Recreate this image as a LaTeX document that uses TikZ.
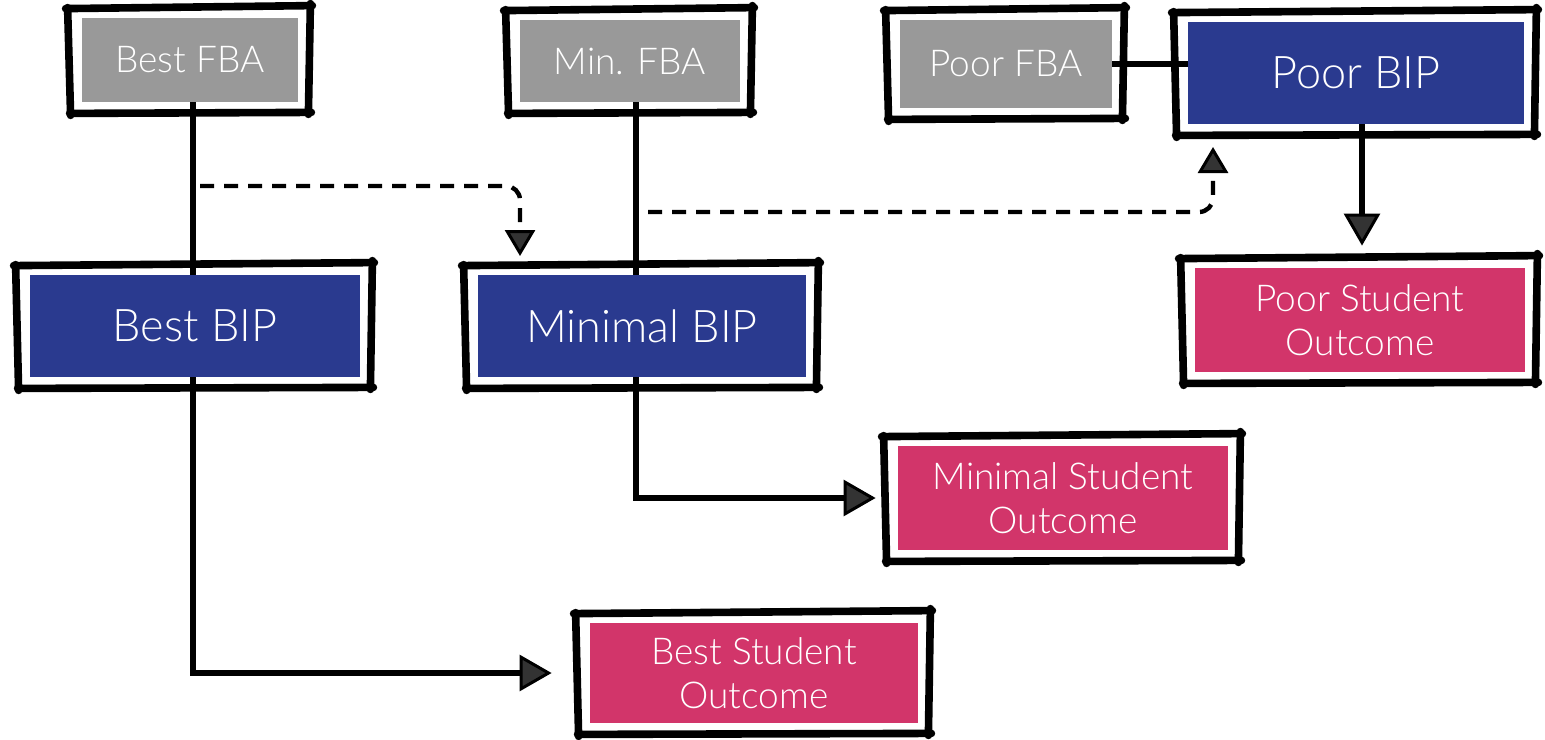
\documentclass[tikz,border=0pt]{standalone}
\usepackage{fontspec}
\setmainfont{Lato}[UprightFont=* Light]
\usetikzlibrary{arrows.meta,backgrounds,calc}
\definecolor{fbagrey}{RGB}{153,153,153}
\definecolor{bipblue}{RGB}{42,58,143}
\definecolor{outpink}{RGB}{210,53,106}
\tikzset{
  box/.style={inner sep=0pt, align=center, text=white, font=\fontsize{18.5}{22}\selectfont},
  fbabox/.style={box, fill=fbagrey, minimum width=108pt, minimum height=42pt, font=\fontsize{18.5}{22}\selectfont},
  bipbox/.style={box, fill=bipblue, minimum width=165pt, minimum height=51pt, font=\fontsize{22.5}{26}\selectfont},
  outbox/.style={box, fill=outpink, minimum width=165pt, minimum height=52pt},
  frame/.style={draw=black, line width=3.8pt, line cap=round, line join=round},
  conn/.style={draw=black, line width=2.6pt},
  tipconn/.style={conn, -{Triangle[length=16pt, width=18pt, fill=black!80, line width=1.5pt]}},
  dashconn/.style={draw=black, line width=2.2pt, dash pattern=on 7pt off 5pt, rounded corners=7pt,
     -{Triangle[length=13pt, width=15pt, fill=black!80, line width=1.5pt, sep=0pt]}},
}
\newcommand\sketchframe[1]{%
 \draw[frame] ([shift={(-16,-9)}]#1.north west) -- ([shift={(14,-12)}]#1.north east);
 \draw[frame] ([shift={(12,-14)}]#1.north east) -- ([shift={(10,12)}]#1.south east);
 \draw[frame] ([shift={(13,10)}]#1.south east) -- ([shift={(-12,11)}]#1.south west);
 \draw[frame] ([shift={(-11,13)}]#1.south west) -- ([shift={(-14,-10)}]#1.north west);
}
\begin{document}
\begin{tikzpicture}[x=0.5pt, y=-0.5pt]
\useasboundingbox (0,0) rectangle (1545,739);
% nodes
\node[fbabox] (bestfba) at (190,60) {Best FBA};
\node[fbabox, minimum width=110pt, minimum height=41pt] (minfba) at (630,61) {Min. FBA};
\node[fbabox, minimum width=106pt, minimum height=44pt] (poorfba) at (1006,64) {Poor FBA};
\node[bipbox, minimum width=168pt] (poorbip) at (1356,73) {Poor BIP};
\node[bipbox] (bestbip) at (195,326) {Best BIP};
\node[bipbox, minimum width=164pt] (minbip) at (642,326) {Minimal BIP};
\node[outbox] (poorout) at (1360,320) {Poor Student\\Outcome};
\node[outbox] (minout) at (1063,498) {Minimal Student\\Outcome};
\node[outbox, minimum width=164pt, minimum height=50pt] (bestout) at (754,673) {Best Student\\Outcome};
% frames
\foreach \n in {bestfba,minfba,poorfba,poorbip,bestbip,minbip,poorout,minout,bestout}{\sketchframe{\n}}
% connectors behind the boxes
\coordinate (d1s) at (200,186);
\coordinate (d1e) at (520,256);
\coordinate (d2s) at (648,212);
\coordinate (d2e) at (1213,147);
\begin{pgfonlayer}{background}
\draw[tipconn, shorten >=19pt] ([xshift=1.5pt]bestfba.south) |- (bestout.west);
\draw[tipconn, shorten >=11pt] ([xshift=3pt]minfba.south) |- (minout.west);
\draw[conn] (poorfba.east) -- (poorfba.east -| poorbip.west);
\draw[tipconn, shorten >=11pt] ([xshift=3pt]poorbip.south) -- ([xshift=3pt]poorbip.south |- poorout.north);
\draw[dashconn] (d1s) -| (d1e);
\draw[dashconn] (d2s) -| (d2e);
\end{pgfonlayer}
\end{tikzpicture}
\end{document}
